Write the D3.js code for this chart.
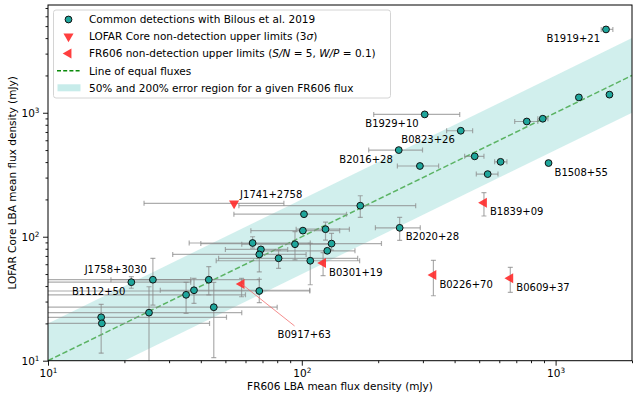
<!DOCTYPE html>
<html>
<head>
<meta charset="utf-8">
<script src="https://cdn.jsdelivr.net/npm/d3@7"></script>
<style>
  body { margin: 0; background: #fff; }
  text { font-family: "DejaVu Sans", sans-serif; }
</style>
</head>
<body>
<div id="chart"></div>
<script>
// common detections (FR606 flux, LOFAR Core flux, error bar ends, null = none)
let det_names = ["", "", "", "", "", "", "", "", "", "", "",
  "B1112+50", "J1758+3030", "", "", "", "", "", "", "", "",
  "", "B2020+28", "B1919+21", "", "", "B1929+10", "", "", "B0823+26",
  "B2016+28", "", "", "", "", "B1508+55"];
let det_fr606 = [102, 101, 124, 131, 126, 64, 94, 69, 68, 81, 108,
  21.3, 25.9, 43, 37.6, 35, 68, 45, 25, 16.2, 16.3,
  170, 243, 1580, 1235, 1630, 305, 770, 890, 423,
  241, 292, 480, 607, 540, 938];
let det_core = [152, 112, 115, 88, 77, 89, 87, 79, 72, 67, 64,
  43, 45, 45, 37, 34, 36.5, 27, 24.4, 22.4, 20,
  178, 118, 4700, 1330, 1400, 970, 850, 895, 716,
  500, 372, 445, 402, 320, 393];
let det_xlo = [54, 63, 95, 40, 68, 36, 58, 50, 31, 47, 46,
  5, 5, 17.7, 27.7, 5, 5, 5, 5, 5, 5,
  56.5, 195, 1513, null, null, 192, 690, 851, 372,
  183.5, 238, 438, 575, 487, null];
let det_xhi = [150, 141, 154, 206, 162, 108, 131, 88, 104, 166, 169,
  36.5, 36.5, 68, 107.5, 60, 107.5, 80, 58, 50.5, 43.3,
  281, 293, 1681, null, null, 419, 851, 933, 471,
  299, 346, 522, 643, 593, null];
let det_ylo = [null, null, 94, 78, null, 81, 65, null, 52, 55.6, 41,
  38.4, 28.1, 33.9, 29, 24.1, 29.4, 10.6, 9, 11.5, null,
  143, 93.5, null, null, null, null, null, null, null,
  null, null, null, null, null, null];
let det_yhi = [null, null, 131, 106.5, null, 100, 110, null, 80, 78, 88.5,
  47.6, 67, 57.3, 46.2, 42.9, 45.3, 42.9, 39.5, 28.5, null,
  214, 143, null, null, null, null, null, null, null,
  null, null, null, null, null, null];

// FR606 non-detections (upper limits on FR606 flux)
let fr_names = ["B0917+63", "B0301+19", "B1839+09", "B0226+70", "B0609+37"];
let fr_fr606 = [57.9, 121.3, 522, 330, 663];
let fr_core = [41.6, 61.4, 188, 49.1, 46.2];
let fr_ylo = [32.8, 48.5, 147, 33.4, 35.6];
let fr_yhi = [46.2, 74.3, 226.5, 64.5, 56.6];

// LOFAR Core non-detections (upper limits on Core flux)
let core_names = ["J1741+2758"];
let core_fr606 = [54.1];
let core_core = [186];
let core_xlo = [23.9];
let core_xhi = [85];

// axes
let x_ticks = [10, 100, 1000];
let y_ticks = [10, 100, 1000];
let x_domain = [10, 2000];
let y_domain = [10, 7400];
let band_low = 0.5, band_high = 2;

let legend_labels = [
  "Common detections with Bilous et al. 2019",
  "LOFAR Core non-detection upper limits (3σ)",
  "FR606 non-detection upper limits (S/N = 5, W/P = 0.1)",
  "Line of equal fluxes",
  "50% and 200% error region for a given FR606 flux"
];

// label placement next to the marker (pixels)
let label_pos = {
  "B1919+21": ["end", -6, 9], "B1929+10": ["end", -6, 9], "B0823+26": ["end", -6, 9],
  "B2016+28": ["end", -6, 9], "B1112+50": ["end", -6, 9], "J1758+3030": ["end", -6, -10],
  "B1508+55": ["start", 6, 9], "B2020+28": ["start", 6, 9], "B1839+09": ["start", 6, 9],
  "B0301+19": ["start", 6, 9], "B0226+70": ["start", 6, 9], "B0609+37": ["start", 6, 9],
  "J1741+2758": ["start", 6, -9], "B0917+63": ["start", 36, 50]
};

let width = 640, height = 400;
let margin = {top: 5, right: 8, bottom: 39.3, left: 48};

let teal = "#1fa69c", red = "#ff2a2a", bar = "#8a8a8a";

let svg = d3.select("#chart").append("svg")
  .attr("width", width).attr("height", height);

let xScale = d3.scaleLog().domain(x_domain).range([margin.left, width - margin.right]);
let yScale = d3.scaleLog().domain(y_domain).range([height - margin.bottom, margin.top]);

svg.append("clipPath").attr("id", "plot")
  .append("rect")
  .attr("x", margin.left).attr("y", margin.top)
  .attr("width", width - margin.left - margin.right)
  .attr("height", height - margin.top - margin.bottom);

let plot = svg.append("g").attr("clip-path", "url(#plot)");

// error region + equal flux line
let bandX = [x_domain[0], x_domain[1]];
plot.append("path")
  .attr("d", d3.area()
    .x(d => xScale(d))
    .y0(d => yScale(d * band_low))
    .y1(d => yScale(d * band_high))(bandX))
  .attr("fill", "#46c0b8").attr("fill-opacity", 0.25);

plot.append("path")
  .attr("d", d3.line().x(d => xScale(d)).y(d => yScale(d))(bandX))
  .attr("stroke", "#2a9a2a").attr("stroke-opacity", 0.7)
  .attr("stroke-width", 1.5).attr("stroke-dasharray", "5.5,2.5")
  .attr("fill", "none");

// error bars
function errbar(g, x1, y1, x2, y2, horiz) {
  g.append("line").attr("x1", x1).attr("y1", y1).attr("x2", x2).attr("y2", y2);
  let c = 2.5;
  if (horiz) {
    g.append("line").attr("x1", x1).attr("x2", x1).attr("y1", y1 - c).attr("y2", y1 + c);
    g.append("line").attr("x1", x2).attr("x2", x2).attr("y1", y1 - c).attr("y2", y1 + c);
  } else {
    g.append("line").attr("x1", x1 - c).attr("x2", x1 + c).attr("y1", y1).attr("y2", y1);
    g.append("line").attr("x1", x2 - c).attr("x2", x2 + c).attr("y1", y2).attr("y2", y2);
  }
}

let bars = plot.append("g").attr("stroke", bar).attr("stroke-opacity", 0.7).attr("stroke-width", 1.2);
for (let i = 0; i < det_fr606.length; i++) {
  let px = xScale(det_fr606[i]), py = yScale(det_core[i]);
  if (det_xlo[i] != null) errbar(bars, xScale(det_xlo[i]), py, xScale(det_xhi[i]), py, true);
  if (det_ylo[i] != null) errbar(bars, px, yScale(det_ylo[i]), px, yScale(det_yhi[i]), false);
}
for (let i = 0; i < fr_fr606.length; i++) {
  let px = xScale(fr_fr606[i]);
  errbar(bars, px, yScale(fr_ylo[i]), px, yScale(fr_yhi[i]), false);
}
for (let i = 0; i < core_fr606.length; i++) {
  let py = yScale(core_core[i]);
  errbar(bars, xScale(core_xlo[i]), py, xScale(core_xhi[i]), py, true);
}

// markers
let triLeft = d3.symbol().type(d3.symbolTriangle).size(44)();

plot.append("g").selectAll("circle")
  .data(det_fr606)
  .enter()
  .append("circle")
  .attr("cx", d => xScale(d))
  .attr("cy", (d, i) => yScale(det_core[i]))
  .attr("r", 3.4)
  .attr("fill", teal).attr("stroke", "#111").attr("stroke-width", 1);

plot.append("g").selectAll("path")
  .data(fr_fr606)
  .enter()
  .append("path")
  .attr("d", triLeft)
  .attr("transform", (d, i) => "translate(" + xScale(d) + "," + yScale(fr_core[i]) + ") rotate(-90)")
  .attr("fill", red).attr("fill-opacity", 0.9);

plot.append("g").selectAll("path")
  .data(core_fr606)
  .enter()
  .append("path")
  .attr("d", triLeft)
  .attr("transform", (d, i) => "translate(" + xScale(d) + "," + yScale(core_core[i]) + ") rotate(180)")
  .attr("fill", red).attr("fill-opacity", 0.9);

// source labels
let labels = [];
det_names.forEach((n, i) => { if (n) labels.push([n, det_fr606[i], det_core[i]]); });
fr_names.forEach((n, i) => labels.push([n, fr_fr606[i], fr_core[i]]));
core_names.forEach((n, i) => labels.push([n, core_fr606[i], core_core[i]]));

labels.forEach(l => {
  let p = label_pos[l[0]];
  let px = xScale(l[1]), py = yScale(l[2]);
  if (l[0] == "B0917+63") {
    svg.append("line")
      .attr("x1", px).attr("y1", py).attr("x2", px + 53).attr("y2", py + 42)
      .attr("stroke", "#f06060").attr("stroke-opacity", 0.8).attr("stroke-width", 0.9);
  }
  svg.append("text")
    .attr("x", px + p[1]).attr("y", py + p[2])
    .attr("dy", "0.36em")
    .attr("text-anchor", p[0])
    .attr("font-size", "10px")
    .attr("fill", "#000")
    .text(l[0]);
});

// axes
function minorTicks(dom) {
  let t = [];
  for (let e = 1; e < 4; e++)
    for (let m = 2; m < 10; m++) {
      let v = m * Math.pow(10, e);
      if (v >= dom[0] && v <= dom[1]) t.push(v);
    }
  return t;
}
function powLabel(sel) {
  sel.selectAll("text").each(function(d) {
    let t = d3.select(this).text("10").attr("font-size", "10.5px").attr("fill", "#000");
    t.append("tspan").attr("dy", "-0.45em").attr("font-size", "7.3px").text(Math.round(Math.log10(d)));
  });
}

let gx = svg.append("g")
  .attr("transform", "translate(0," + (height - margin.bottom) + ")")
  .call(d3.axisBottom(xScale).tickValues(x_ticks).tickSize(5).tickPadding(3.5))
  .call(powLabel);
svg.append("g")
  .attr("transform", "translate(0," + (height - margin.bottom) + ")")
  .call(d3.axisBottom(xScale).tickValues(minorTicks(x_domain)).tickSize(2.5).tickFormat(""));

let gy = svg.append("g")
  .attr("transform", "translate(" + margin.left + ",0)")
  .call(d3.axisLeft(yScale).tickValues(y_ticks).tickSize(5).tickPadding(3.5))
  .call(powLabel);
svg.append("g")
  .attr("transform", "translate(" + margin.left + ",0)")
  .call(d3.axisLeft(yScale).tickValues(minorTicks(y_domain)).tickSize(2.5).tickFormat(""));

svg.selectAll(".domain").remove();
svg.selectAll(".tick line").attr("stroke", "#000").attr("stroke-width", 0.9);

svg.append("rect")
  .attr("x", margin.left).attr("y", margin.top)
  .attr("width", width - margin.left - margin.right)
  .attr("height", height - margin.top - margin.bottom)
  .attr("fill", "none").attr("stroke", "#000").attr("stroke-width", 1);

svg.append("text")
  .attr("x", (margin.left + width - margin.right) / 2)
  .attr("y", 390)
  .attr("text-anchor", "middle")
  .attr("font-size", "10.5px")
  .text("FR606 LBA mean flux density (mJy)");

svg.append("text")
  .attr("transform", "translate(16," + ((margin.top + height - margin.bottom) / 2) + ") rotate(-90)")
  .attr("text-anchor", "middle")
  .attr("font-size", "10.5px")
  .text("LOFAR Core LBA mean flux density (mJy)");

// legend
let lg = svg.append("g").attr("transform", "translate(53.5,10)");
lg.append("rect")
  .attr("width", 337).attr("height", 88).attr("rx", 2.5)
  .attr("fill", "#fff").attr("fill-opacity", 0.85)
  .attr("stroke", "#d4d4d4").attr("stroke-width", 1);

let rowY = [9.5, 26.5, 43.5, 60.8, 77.8];
lg.append("circle").attr("cx", 15).attr("cy", rowY[0]).attr("r", 3.4)
  .attr("fill", teal).attr("stroke", "#111");
lg.append("path").attr("d", triLeft)
  .attr("transform", "translate(15," + rowY[1] + ") rotate(180)").attr("fill", red).attr("fill-opacity", 0.9);
lg.append("path").attr("d", triLeft)
  .attr("transform", "translate(15," + rowY[2] + ") rotate(-90)").attr("fill", red).attr("fill-opacity", 0.9);
lg.append("line").attr("x1", 3.5).attr("x2", 26.5).attr("y1", rowY[3]).attr("y2", rowY[3])
  .attr("stroke", "#0a8a0a").attr("stroke-width", 1.5).attr("stroke-dasharray", "4,2.2");
lg.append("rect").attr("x", 4).attr("y", rowY[4] - 3.5).attr("width", 23).attr("height", 7)
  .attr("fill", "#46c0b8").attr("fill-opacity", 0.3);

let lt = lg.selectAll("text.leg")
  .data(legend_labels)
  .enter()
  .append("text")
  .attr("class", "leg")
  .attr("x", 35.5)
  .attr("y", (d, i) => rowY[i])
  .attr("dy", "0.36em")
  .attr("font-size", "10.5px");

lt.each(function(d, i) {
  let t = d3.select(this);
  if (i == 1) {
    t.append("tspan").text("LOFAR Core non-detection upper limits (3");
    t.append("tspan").attr("font-style", "italic").text("σ");
    t.append("tspan").text(")");
  } else if (i == 2) {
    t.append("tspan").text("FR606 non-detection upper limits (");
    t.append("tspan").attr("font-style", "italic").text("S/N");
    t.append("tspan").text(" = 5, ");
    t.append("tspan").attr("font-style", "italic").text("W/P");
    t.append("tspan").text(" = 0.1)");
  } else {
    t.text(d);
  }
});
</script>
</body>
</html>
